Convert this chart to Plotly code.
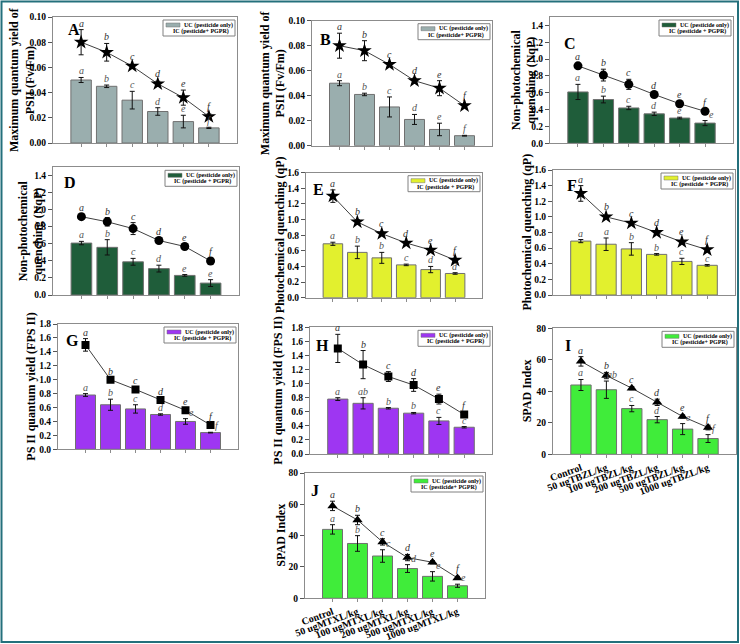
import plotly.graph_objects as go

W, H = 740, 644
SERIF = "Liberation Serif"

doses_tbzl = ["Control", "50 ugTBZL/kg", "100 ugTBZL/kg", "200 ugTBZL/kg",
              "500 ugTBZL/kg", "1000 ugTBZL/kg"]
doses_mtxl = ["Control", "50 ugMTXL/kg", "100 ugMTXL/kg", "200 ugMTXL/kg",
              "500 ugMTXL/kg", "1000 ugMTXL/kg"]

legend_uc = "UC (pesticide only)"
legend_ic_a = "IC (pesticide+ PGPR)"
legend_ic_b = "IC (pesticide + PGPR)"

# ---- Panel A : Fv/Fm (TBZL)
a_uc = [0.050, 0.045, 0.034, 0.025, 0.017, 0.012]
a_uc_err = [0.002, 0.001, 0.007, 0.003, 0.005, 0.0005]
a_ic = [0.080, 0.072, 0.061, 0.047, 0.036, 0.021]
a_ic_err = [0.010, 0.007, 0.001, 0.002, 0.006, 0.002]
a_uc_let = ["a", "b", "c", "d", "e", "f"]
a_ic_let = ["a", "b", "c", "d", "e", "f"]

# ---- Panel B : Fv/Fm (MTXL)
b_uc = [0.050, 0.041, 0.031, 0.021, 0.013, 0.008]
b_uc_err = [0.002, 0.001, 0.008, 0.004, 0.005, 0.0003]
b_ic = [0.080, 0.076, 0.065, 0.052, 0.046, 0.032]
b_ic_err = [0.010, 0.008, 0.001, 0.002, 0.006, 0.001]
b_uc_let = ["a", "b", "c", "d", "e", "f"]
b_ic_let = ["a", "b", "c", "d", "e", "f"]

# ---- Panel C : NqP (TBZL)
c_uc = [0.61, 0.52, 0.42, 0.35, 0.30, 0.24]
c_uc_err = [0.09, 0.04, 0.02, 0.02, 0.01, 0.03]
c_ic = [0.92, 0.81, 0.70, 0.58, 0.47, 0.38]
c_ic_err = [0.02, 0.07, 0.06, 0.02, 0.03, 0.01]
c_uc_let = ["a", "b", "c", "d", "e", "e"]
c_ic_let = ["a", "b", "c", "d", "e", "f"]

# ---- Panel D : NqP (MTXL)
d_uc = [0.61, 0.56, 0.39, 0.31, 0.23, 0.14]
d_uc_err = [0.02, 0.09, 0.04, 0.04, 0.01, 0.04]
d_ic = [0.92, 0.86, 0.78, 0.64, 0.57, 0.40]
d_ic_err = [0.02, 0.05, 0.07, 0.02, 0.03, 0.01]
d_uc_let = ["a", "b", "c", "d", "e", "e"]
d_ic_let = ["a", "b", "c", "d", "e", "f"]

# ---- Panel E : qP (TBZL)
e_uc = [0.69, 0.58, 0.51, 0.42, 0.36, 0.31]
e_uc_err = [0.02, 0.08, 0.07, 0.01, 0.04, 0.01]
e_ic = [1.30, 0.97, 0.82, 0.70, 0.61, 0.48]
e_ic_err = [0.08, 0.03, 0.02, 0.01, 0.01, 0.01]
e_uc_let = ["a", "b", "b", "c", "d", "d"]
e_ic_let = ["a", "b", "c", "d", "e", "f"]

# ---- Panel F : qP (MTXL)
f_uc = [0.69, 0.65, 0.59, 0.52, 0.43, 0.38]
f_uc_err = [0.02, 0.08, 0.08, 0.01, 0.04, 0.01]
f_ic = [1.30, 1.00, 0.92, 0.80, 0.68, 0.58]
f_ic_err = [0.10, 0.02, 0.02, 0.01, 0.01, 0.01]
f_uc_let = ["a", "a", "b", "b", "c", "c"]
f_ic_let = ["a", "b", "c", "d", "e", "f"]

# ---- Panel G : FPS II (TBZL)
g_uc = [0.78, 0.64, 0.58, 0.50, 0.40, 0.24]
g_uc_err = [0.02, 0.08, 0.06, 0.01, 0.04, 0.005]
g_ic = [1.50, 1.00, 0.86, 0.71, 0.56, 0.35]
g_ic_err = [0.09, 0.01, 0.02, 0.02, 0.02, 0.01]
g_uc_let = ["a", "b", "c", "d", "e", "f"]
g_ic_let = ["a", "b", "c", "d", "e", "f"]

# ---- Panel H : FPS II (MTXL)
h_uc = [0.78, 0.72, 0.65, 0.58, 0.47, 0.38]
h_uc_err = [0.02, 0.08, 0.01, 0.01, 0.05, 0.01]
h_ic = [1.50, 1.27, 1.10, 0.98, 0.78, 0.56]
h_ic_err = [0.20, 0.20, 0.07, 0.09, 0.07, 0.03]
h_uc_let = ["a", "ab", "b", "b", "c", "c"]
h_ic_let = ["a", "b", "c", "d", "e", "f"]

# ---- Panel I : SPAD (TBZL)
i_uc = [44, 41, 29, 22, 16, 10]
i_uc_err = [3.5, 5.5, 2.0, 2.0, 3.5, 2.5]
i_ic = [59, 50, 42, 33, 24, 17]
i_ic_err = [3.0, 2.0, 1.0, 2.0, 1.0, 1.5]
i_uc_let = ["a", "ab", "c", "d", "e", "f"]
i_ic_let = ["a", "b", "c", "d", "e", "f"]

# ---- Panel J : SPAD (MTXL)
j_uc = [44, 35, 27, 19, 14, 8]
j_uc_err = [3.0, 5.0, 4.0, 2.5, 3.0, 1.0]
j_ic = [59, 50, 36, 26, 23, 13]
j_ic_err = [3.0, 3.0, 2.0, 2.0, 1.0, 1.0]
j_uc_let = ["a", "b", "c", "d", "e", "e"]
j_ic_let = ["a", "b", "c", "d", "e", "f"]

title_fvfm = "Maximum quantum yield of<br>PSII (Fv/Fm)"
title_nqp = "Non-photochemical<br>quenching (NqP)"
title_qp = "Photochemical quenching (qP)"
title_fps = "PS II quantum yield (FPS II)"
title_spad = "SPAD Index"

COL_GRAY = "#9aaeae"
COL_DGREEN = "#1f5d3a"
COL_YEL = "#e2f02e"
COL_PUR = "#9e36f2"
COL_GRN = "#40ec3a"

# frame: left, right, top, bottom (px); letter pos; title x
panels = [
    dict(lab="A", uc=a_uc, ue=a_uc_err, ic=a_ic, ie=a_ic_err, ul=a_uc_let, il=a_ic_let,
         cats=doses_tbzl, col=COL_GRAY, sym="star", ms=11, title=title_fvfm,
         yr=[0, 0.10], dt=0.02, fmt=".2f", fr=(53, 237, 17, 143), lp=(66, 19), tx=22,
         leg=legend_ic_a, xl=False),
    dict(lab="B", uc=b_uc, ue=b_uc_err, ic=b_ic, ie=b_ic_err, ul=b_uc_let, il=b_ic_let,
         cats=doses_mtxl, col=COL_GRAY, sym="star", ms=11, title=title_fvfm,
         yr=[0, 0.10], dt=0.02, fmt=".2f", fr=(312, 492, 20.7, 145.7), lp=(318, 29), tx=273,
         leg=legend_ic_a, xl=False),
    dict(lab="C", uc=c_uc, ue=c_uc_err, ic=c_ic, ie=c_ic_err, ul=c_uc_let, il=c_ic_let,
         cats=doses_tbzl, col=COL_DGREEN, sym="circle", ms=9, title=title_nqp,
         yr=[0, 1.5], dt=0.2, fmt=".1f", fr=(550, 733, 17, 143.3), lp=(562, 33), tx=524,
         leg=legend_ic_b, xl=False),
    dict(lab="D", uc=d_uc, ue=d_uc_err, ic=d_ic, ie=d_ic_err, ul=d_uc_let, il=d_ic_let,
         cats=doses_mtxl, col=COL_DGREEN, sym="circle", ms=9, title=title_nqp,
         yr=[0, 1.5], dt=0.2, fmt=".1f", fr=(53, 239, 167.3, 295), lp=(62, 172), tx=31,
         leg=legend_ic_b, xl=False),
    dict(lab="E", uc=e_uc, ue=e_uc_err, ic=e_ic, ie=e_ic_err, ul=e_uc_let, il=e_ic_let,
         cats=doses_tbzl, col=COL_YEL, sym="star", ms=11, title=title_qp,
         yr=[0, 1.6], dt=0.2, fmt=".1f", fr=(306, 482, 172.7, 297.7), lp=(311, 179), tx=280,
         leg=legend_ic_b, xl=False),
    dict(lab="F", uc=f_uc, ue=f_uc_err, ic=f_ic, ie=f_ic_err, ul=f_uc_let, il=f_ic_let,
         cats=doses_mtxl, col=COL_YEL, sym="star", ms=11, title=title_qp,
         yr=[0, 1.6], dt=0.2, fmt=".1f", fr=(553, 735, 170, 295), lp=(565, 175), tx=526,
         leg=legend_ic_b, xl=False),
    dict(lab="G", uc=g_uc, ue=g_uc_err, ic=g_ic, ie=g_ic_err, ul=g_uc_let, il=g_ic_let,
         cats=doses_tbzl, col=COL_PUR, sym="square", ms=8, title=title_fps,
         yr=[0, 1.8], dt=0.2, fmt=".1f", fr=(58, 238, 324, 449.3), lp=(64, 330), tx=31,
         leg=legend_ic_b, xl=False),
    dict(lab="H", uc=h_uc, ue=h_uc_err, ic=h_ic, ie=h_ic_err, ul=h_uc_let, il=h_ic_let,
         cats=doses_mtxl, col=COL_PUR, sym="square", ms=8, title=title_fps,
         yr=[0, 1.8], dt=0.2, fmt=".1f", fr=(310, 492, 327.3, 454), lp=(314, 335), tx=278,
         leg=legend_ic_b, xl=False),
    dict(lab="I", uc=i_uc, ue=i_uc_err, ic=i_ic, ie=i_ic_err, ul=i_uc_let, il=i_ic_let,
         cats=doses_tbzl, col=COL_GRN, sym="triangle-up", ms=9, title=title_spad,
         yr=[0, 80], dt=20, fmt="d", fr=(553, 736, 328.3, 454.3), lp=(563, 335), tx=527,
         leg=legend_ic_a, xl=True),
    dict(lab="J", uc=j_uc, ue=j_uc_err, ic=j_ic, ie=j_ic_err, ul=j_uc_let, il=j_ic_let,
         cats=doses_mtxl, col=COL_GRN, sym="triangle-up", ms=9, title=title_spad,
         yr=[0, 80], dt=20, fmt="d", fr=(305, 485, 473, 598.3), lp=(309, 480), tx=281,
         leg=legend_ic_a, xl=True),
]

fig = go.Figure()
annotations = []
shapes = []
axes = {}

for k, p in enumerate(panels, start=1):
    xa = "x" if k == 1 else f"x{k}"
    ya = "y" if k == 1 else f"y{k}"
    xk = "xaxis" if k == 1 else f"xaxis{k}"
    yk = "yaxis" if k == 1 else f"yaxis{k}"
    L, R, T, B = p["fr"]
    pxu = (B - T) / (p["yr"][1] - p["yr"][0])  # pixels per data unit

    fig.add_trace(go.Bar(
        x=p["cats"], y=p["uc"], xaxis=xa, yaxis=ya, showlegend=False,
        marker=dict(color=p["col"], line=dict(color="#707070", width=1)),
        error_y=dict(type="data", array=p["ue"], color="#111", thickness=1, width=2.5),
    ))
    fig.add_trace(go.Scatter(
        x=p["cats"], y=p["ic"], xaxis=xa, yaxis=ya, showlegend=False,
        mode="lines+markers",
        line=dict(color="#404040", width=1),
        marker=dict(symbol=p["sym"], size=p["ms"], color="black"),
        error_y=dict(type="data", array=p["ie"], color="#111", thickness=1, width=2.5),
    ))

    axes[xk] = dict(
        domain=[L / W, R / W], anchor=ya, type="category", automargin=False,
        categoryorder="array", categoryarray=p["cats"], range=[-1.1, 6.1],
        showline=True, linecolor="#8c8c8c", linewidth=1, mirror=True,
        ticks="outside", ticklen=3, tickcolor="#8c8c8c",
        showticklabels=p["xl"], tickangle=-20,
        tickfont=dict(family=SERIF, size=10, color="black", weight="bold"),
        showgrid=False, zeroline=False, fixedrange=True,
    )
    axes[yk] = dict(
        domain=[1 - B / H, 1 - T / H], anchor=xa, range=p["yr"], tick0=0, dtick=p["dt"],
        tickformat=p["fmt"], automargin=False,
        showline=True, linecolor="#8c8c8c", linewidth=1, mirror=True,
        ticks="outside", ticklen=4, tickcolor="#555",
        tickfont=dict(family=SERIF, size=9.5, color="black", weight="bold"),
        showgrid=False, zeroline=False, fixedrange=True,
    )

    # letters over points and bars
    pt_tops = []
    for c, v, e, t in zip(p["cats"], p["ic"], p["ie"], p["il"]):
        lift = max(0.0, p["ms"] / 2 - 2 - e * pxu)
        pt_tops.append((v + e) * pxu + lift)
        annotations.append(dict(x=c, y=v + e, xref=xa, yref=ya, text=f"<i>{t}</i>",
                                showarrow=False, yanchor="bottom", yshift=-1 + lift,
                                font=dict(family=SERIF, size=10, color="#333")))
    for c, v, e, t, pt in zip(p["cats"], p["uc"], p["ue"], p["ul"], pt_tops):
        close = abs(pt - (v + e) * pxu) < 13
        annotations.append(dict(x=c, y=v + e, xref=xa, yref=ya, text=f"<i>{t}</i>",
                                showarrow=False, yanchor="bottom", yshift=-1,
                                xshift=6 if close else 0,
                                font=dict(family=SERIF, size=10, color="#555")))

    # panel letter
    annotations.append(dict(x=p["lp"][0] / W, y=1 - p["lp"][1] / H, xref="paper", yref="paper",
                            text=p["lab"], showarrow=False, xanchor="left", yanchor="top",
                            font=dict(family=SERIF, size=16, color="black", weight="bold")))
    # y-axis title
    annotations.append(dict(x=p["tx"] / W, y=1 - (T + B) / 2 / H, xref="paper", yref="paper",
                            text=p["title"], showarrow=False, textangle=-90,
                            xanchor="center", yanchor="middle",
                            font=dict(family=SERIF, size=12, color="black", weight="bold")))

    # legend box
    bx1 = R - 2
    bx0 = bx1 - 72
    by0 = T + 3
    by1 = by0 + 16
    shapes.append(dict(type="rect", xref="paper", yref="paper",
                       x0=bx0 / W, x1=bx1 / W, y0=1 - by1 / H, y1=1 - by0 / H,
                       line=dict(color="#808080", width=1), fillcolor="white", layer="above"))
    shapes.append(dict(type="rect", xref="paper", yref="paper",
                       x0=(bx0 + 3) / W, x1=(bx0 + 17) / W, y0=1 - (by0 + 7) / H, y1=1 - (by0 + 3) / H,
                       line=dict(color="#707070", width=0.5), fillcolor=p["col"], layer="above"))
    annotations.append(dict(x=(bx0 + 19) / W, y=1 - (by0 + 5) / H, xref="paper", yref="paper",
                            text=legend_uc, showarrow=False, xanchor="left", yanchor="middle",
                            font=dict(family=SERIF, size=6, color="black", weight="bold")))
    annotations.append(dict(x=(bx0 + bx1) / 2 / W + 2 / W, y=1 - (by0 + 11.5) / H, xref="paper", yref="paper",
                            text=p["leg"], showarrow=False, xanchor="center", yanchor="middle",
                            font=dict(family=SERIF, size=6, color="black", weight="bold")))

# outer teal frame
shapes.append(dict(type="rect", xref="paper", yref="paper",
                   x0=1.5 / W, x1=738 / W, y0=1 - 642 / H, y1=1 - 1.5 / H,
                   line=dict(color="#24707c", width=2), fillcolor="rgba(0,0,0,0)"))

fig.update_layout(
    template="none",
    width=W, height=H, autosize=False,
    margin=dict(l=0, r=0, t=0, b=0, autoexpand=False),
    paper_bgcolor="white", plot_bgcolor="white",
    bargap=0.2, showlegend=False,
    annotations=annotations, shapes=shapes,
    **axes,
)

fig.write_html(
    "out.html",
    config={"displayModeBar": False},
    post_script="document.body.style.margin='0';document.body.style.overflow='hidden';",
)
